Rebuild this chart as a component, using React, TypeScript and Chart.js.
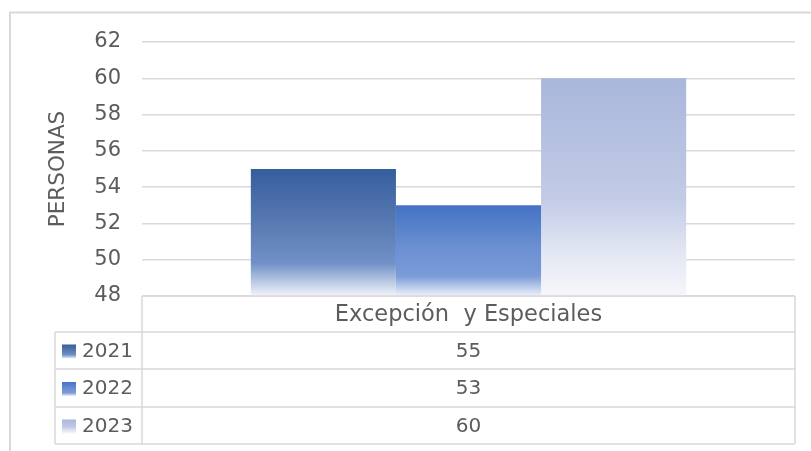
import { useEffect, useRef } from 'react';
import { Chart, registerables } from 'chart.js';

Chart.register(...registerables);

const categories = ['Excepción  y Especiales'];
const seriesNames = ['2021', '2022', '2023'];
const values2021 = [55];
const values2022 = [53];
const values2023 = [60];
const yMin = 48;
const yMax = 62;
const yStep = 2;
const axisTitle = 'PERSONAS';

const FONT = '"DejaVu Sans", sans-serif';
const TEXT = '#5c5c5c';
const LINE = '#d9d9d9';

const stops: [number, string][][] = [
  [[0, '#355e9e'], [0.45, '#5b7bb3'], [0.74, '#7090c8'], [1, '#f2f4fa']],
  [[0, '#4472c4'], [0.45, '#6a8fd1'], [0.78, '#7b9bd8'], [1, '#eef2fa']],
  [[0, '#a9b7db'], [0.55, '#c2cbe6'], [0.8, '#e3e7f3'], [1, '#f5f7fb']],
];

function makeGrad(c: CanvasRenderingContext2D, top: number, bottom: number, s: [number, string][]) {
  const g = c.createLinearGradient(0, top, 0, bottom);
  s.forEach(([o, col]) => g.addColorStop(o, col));
  return g;
}

function barColor(i: number) {
  return (ctx: any) => {
    const chart = ctx.chart;
    const area = chart.chartArea;
    const ys = chart.scales?.y;
    if (!area || !ys || ctx.raw == null) return stops[i][0][1];
    const top = ys.getPixelForValue(ctx.raw);
    return makeGrad(chart.ctx, top, area.bottom, stops[i]);
  };
}

const tablePlugin = {
  id: 'tablePlugin',
  beforeDraw(chart: any) {
    const c = chart.ctx;
    c.save();
    c.strokeStyle = LINE;
    c.lineWidth = 2;
    c.beginPath();
    c.moveTo(9, 12.5);
    c.lineTo(811, 12.5);
    c.moveTo(10, 12);
    c.lineTo(10, 451);
    c.stroke();
    c.restore();
  },
  afterDraw(chart: any) {
    const c = chart.ctx;
    const a = chart.chartArea;
    const headLeft = 55;
    const rowH = [a.bottom, a.bottom + 36, a.bottom + 73, a.bottom + 111, a.bottom + 148];
    c.save();
    c.strokeStyle = LINE;
    c.lineWidth = 1.5;
    c.beginPath();
    c.moveTo(a.left, rowH[0]);
    c.lineTo(a.right, rowH[0]);
    for (let r = 1; r < rowH.length; r++) {
      c.moveTo(headLeft, rowH[r]);
      c.lineTo(a.right, rowH[r]);
    }
    c.moveTo(a.left, rowH[0]);
    c.lineTo(a.left, rowH[4]);
    c.moveTo(a.right, rowH[0]);
    c.lineTo(a.right, rowH[4]);
    c.moveTo(headLeft, rowH[1]);
    c.lineTo(headLeft, rowH[4]);
    c.stroke();

    c.fillStyle = TEXT;
    c.font = `22.5px ${FONT}`;
    c.textBaseline = 'middle';
    c.textAlign = 'center';
    const cx = (a.left + a.right) / 2;
    c.fillText(chart.data.labels[0], cx, (rowH[0] + rowH[1]) / 2 + 1);
    c.font = `20px ${FONT}`;
    chart.data.datasets.forEach((ds: any, i: number) => {
      const cy = (rowH[i + 1] + rowH[i + 2]) / 2 + 1;
      c.textAlign = 'center';
      c.fillStyle = TEXT;
      c.fillText(String(ds.data[0]), cx, cy);
      c.textAlign = 'left';
      c.fillText(ds.label, 82, cy);
      const k = 14;
      c.fillStyle = makeGrad(c, cy - k / 2, cy + k / 2, stops[i]);
      c.fillRect(62, cy - k / 2, k, k);
    });

    c.save();
    c.translate(58, (a.top + a.bottom) / 2);
    c.rotate(-Math.PI / 2);
    c.textAlign = 'center';
    c.textBaseline = 'middle';
    c.fillStyle = TEXT;
    c.font = `21.5px ${FONT}`;
    c.fillText(axisTitle, 0, 0);
    c.restore();
    c.restore();
  },
};

export default function App() {
  const ref = useRef<HTMLCanvasElement>(null);
  useEffect(() => {
    if (!ref.current) return;
    const chart = new Chart(ref.current, {
      type: 'bar',
      data: {
        labels: categories,
        datasets: [
          { label: seriesNames[0], data: values2021, backgroundColor: barColor(0) },
          { label: seriesNames[1], data: values2022, backgroundColor: barColor(1) },
          { label: seriesNames[2], data: values2023, backgroundColor: barColor(2) },
        ],
      },
      options: {
        animation: false,
        responsive: false,
        layout: { padding: { left: 0, right: 16, top: 42, bottom: 155 } },
        datasets: { bar: { categoryPercentage: 2 / 3, barPercentage: 1, borderWidth: 0 } },
        plugins: { legend: { display: false }, tooltip: { enabled: false } },
        scales: {
          x: { display: false },
          y: {
            min: yMin,
            max: yMax,
            afterFit: (s: any) => { s.width = 142; },
            ticks: { stepSize: yStep, padding: 21, color: TEXT, font: { family: FONT, size: 21 } },
            grid: { color: LINE, lineWidth: 1.5, drawTicks: false },
            border: { display: false },
          },
        },
      },
      plugins: [tablePlugin],
    });
    return () => chart.destroy();
  }, []);
  return (
    <div style={{ position: 'fixed', left: 0, top: 0, width: 811, height: 451, background: '#fff' }}>
      <canvas ref={ref} width={811} height={451} style={{ display: 'block' }} />
    </div>
  );
}
